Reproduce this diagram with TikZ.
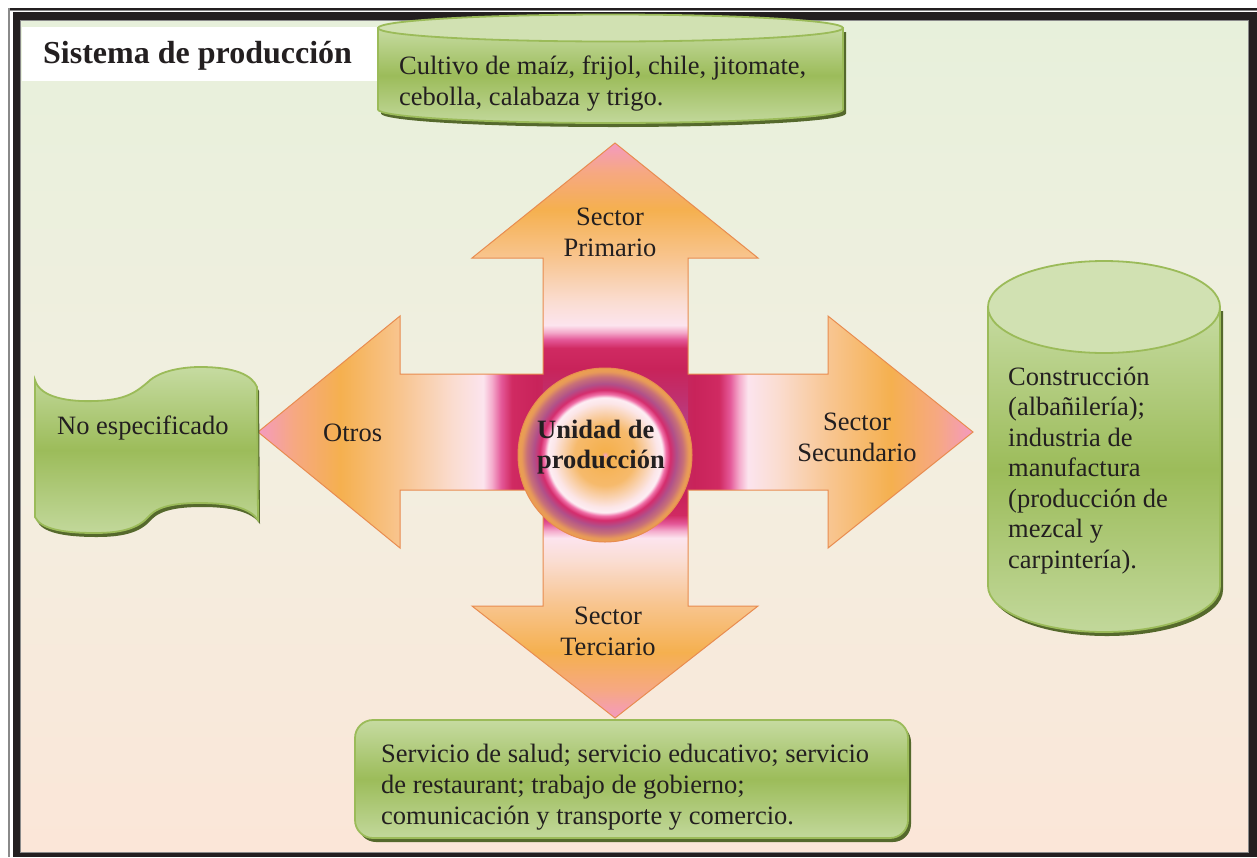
\documentclass[tikz,border=0pt]{standalone}
\usepackage{fontspec}
\setmainfont{Liberation Serif}
\definecolor{frameblack}{HTML}{231F20}
\definecolor{framegray}{HTML}{8A8A8A}
\definecolor{pgtop}{HTML}{E7F0DB}
\definecolor{pgmid}{HTML}{F2EFE0}
\definecolor{pgbot}{HTML}{FBE6D8}
\definecolor{gline}{HTML}{9BBB59}
\definecolor{glight}{HTML}{C6DBA1}
\definecolor{glightb}{HTML}{C2D89B}
\definecolor{gmid}{HTML}{9CBC5A}
\definecolor{gcap}{HTML}{D1E1B2}
\definecolor{gshadow}{HTML}{55692C}
\definecolor{aline}{HTML}{E88C50}
\definecolor{txt}{HTML}{231F20}
% arrow gradient stops (centre -> tip)
\definecolor{aa}{HTML}{B4448A}
\definecolor{ab}{HTML}{C0306E}
\definecolor{ac}{HTML}{C8235A}
\definecolor{ad}{HTML}{D02A62}
\definecolor{ae}{HTML}{E45898}
\definecolor{af}{HTML}{F4AACB}
\definecolor{ag}{HTML}{FCE4EE}
\definecolor{ah}{HTML}{FADDD2}
\definecolor{ai}{HTML}{F8C590}
\definecolor{aj}{HTML}{F5B04F}
\definecolor{ak}{HTML}{F6A882}
\definecolor{al}{HTML}{F49AC0}
% ring stops
\definecolor{rp}{HTML}{F2A0C8}
\definecolor{ro}{HTML}{F5B04C}
\definecolor{roo}{HTML}{F6BA6C}
\definecolor{rw}{HTML}{FCE6E8}
\definecolor{rww}{HTML}{FDEEF4}
\definecolor{rpk}{HTML}{F070A8}
\definecolor{rmg}{HTML}{D42C6C}
\definecolor{rpu}{HTML}{B0508A}
\definecolor{rmv}{HTML}{C87078}
\definecolor{ror}{HTML}{E89A58}
\definecolor{rorr}{HTML}{EBA050}
\pgfdeclareverticalshading{upsh}{100bp}{color(0bp)=(aa); color(25bp)=(aa); color(31bp)=(ab); color(36bp)=(ac); color(39.5bp)=(ad); color(41bp)=(ae); color(42.25bp)=(af); color(43.5bp)=(ag); color(47.5bp)=(ah); color(55bp)=(ai); color(63.5bp)=(aj); color(70bp)=(ak); color(75bp)=(al); color(100bp)=(al)}
\pgfdeclareverticalshading{downsh}{100bp}{color(0bp)=(al); color(25bp)=(al); color(30bp)=(ak); color(36.5bp)=(aj); color(45bp)=(ai); color(52.5bp)=(ah); color(56.5bp)=(ag); color(57.75bp)=(af); color(59bp)=(ae); color(60.5bp)=(ad); color(64bp)=(ac); color(69bp)=(ab); color(75bp)=(aa); color(100bp)=(aa)}
\pgfdeclarehorizontalshading{rightsh}{100bp}{color(0bp)=(aa); color(25bp)=(aa); color(31bp)=(ab); color(36bp)=(ac); color(39.5bp)=(ad); color(41bp)=(ae); color(42.25bp)=(af); color(43.5bp)=(ag); color(47.5bp)=(ah); color(55bp)=(ai); color(63.5bp)=(aj); color(70bp)=(ak); color(75bp)=(al); color(100bp)=(al)}
\pgfdeclarehorizontalshading{leftsh}{100bp}{color(0bp)=(al); color(25bp)=(al); color(30bp)=(ak); color(36.5bp)=(aj); color(45bp)=(ai); color(52.5bp)=(ah); color(56.5bp)=(ag); color(57.75bp)=(af); color(59bp)=(ae); color(60.5bp)=(ad); color(64bp)=(ac); color(69bp)=(ab); color(75bp)=(aa); color(100bp)=(aa)}
\pgfdeclareradialshading{ringsh}{\pgfpoint{0bp}{0bp}}{color(0bp)=(rp); color(1bp)=(ro); color(8.75bp)=(roo); color(15bp)=(rw); color(16.5bp)=(rww); color(17.5bp)=(rpk); color(18.75bp)=(rmg); color(20.5bp)=(rpu); color(22.5bp)=(rmv); color(24bp)=(ror); color(25bp)=(rorr); color(50bp)=(rorr)}
\tikzset{
  txtsz/.style={font=\fontsize{26.5}{31}\selectfont},
  lbl/.style={txtsz, text=txt, inner sep=0pt, anchor=base west, align=left},
  clbl/.style={txtsz, text=txt, inner sep=0pt, anchor=base, align=center},
  greenfill/.style={top color=glight, bottom color=glightb, middle color=gmid},
  greenline/.style={draw=gline, line width=1.8pt},
  arrowline/.style={draw=aline, line width=1pt, line join=miter}
}
\begin{document}
\begin{tikzpicture}[x=1pt,y=-1pt]
\useasboundingbox (0,0) rectangle (1257,857);
% frame
\fill[white] (0,0) rectangle (1257,857);
\fill[frameblack] (8,7.5) rectangle (1257,9.5);
\fill[framegray] (8,10) rectangle (1257,11);
\fill[framegray] (8,7.5) rectangle (9.5,857);
\fill[frameblack] (12.5,11.5) rectangle (1257,857);
\shade[top color=pgtop, bottom color=pgbot, middle color=pgmid] (20,20) rectangle (1248,852);
\draw[framegray, line width=0.8pt] (20,20) rectangle (1248,852);
% title box
\fill[white] (22,27) rectangle (378,81);
\node[inner sep=0pt, anchor=base west, text=txt, font=\fontsize{32}{38}\selectfont\bfseries] (title) at (43,63) {Sistema de producción};

% ---------- arrows ----------
\shade[shading=leftsh] (615.5,374) -- (400,374) -- (400,316) -- (258,432) -- (400,548) -- (400,490) -- (615.5,490) -- cycle;
\shade[shading=rightsh] (615.5,374) -- (828,374) -- (828,316) -- (973,432) -- (828,548) -- (828,490) -- (615.5,490) -- cycle;
\shade[shading=upsh] (543,432) -- (543,258) -- (472,258) -- (615,143) -- (758,258) -- (688,258) -- (688,432) -- cycle;
\shade[shading=downsh] (543,432) -- (543,606) -- (472,606) -- (615,718) -- (758,606) -- (688,606) -- (688,432) -- cycle;
\draw[arrowline] (543,374) -- (543,258) -- (472,258) -- (615,143) -- (758,258) -- (688,258) -- (688,374) -- (828,374) -- (828,316) -- (973,432) -- (828,548) -- (828,490) -- (688,490) -- (688,606) -- (758,606) -- (615,718) -- (472,606) -- (543,606) -- (543,490) -- (400,490) -- (400,548) -- (258,432) -- (400,316) -- (400,374) -- cycle;

% centre circle
\shade[shading=ringsh] (605,455) circle[radius=87];
\draw[aline, line width=1pt] (605,455) circle[radius=87];
\node[lbl, font=\fontsize{26.5}{30}\selectfont\bfseries] (unidad) at (537,468) {Unidad de\\producción};

% arrow labels
\node[clbl] (primario) at (610,256) {Sector\\Primario};
\node[clbl] (secundario) at (857,461) {Sector\\Secundario};
\node[clbl] (terciario) at (608,655) {Sector\\Terciario};
\node[lbl] (otros) at (323,441) {Otros};

% ---------- top cylinder ----------
\begin{scope}[shift={(3,4)}]
\fill[gshadow] (378,28) -- (378,109.5) arc[start angle=180,end angle=0,x radius=232.5,y radius=13.5] -- (843,28) -- cycle;
\end{scope}
\path[greenfill, greenline] (378,28) -- (378,109.5) arc[start angle=180,end angle=0,x radius=232.5,y radius=13.5] -- (843,28) -- cycle;
\path[fill=gcap, greenline] (610.5,28) ellipse[x radius=232.5,y radius=13.5];
\node[lbl] (cultivo) at (399,105) {Cultivo de maíz, frijol, chile, jitomate,\\cebolla, calabaza y trigo.};

% ---------- right cylinder ----------
\begin{scope}[shift={(3,4)}]
\fill[gshadow] (988,307) -- (988,586) arc[start angle=180,end angle=0,x radius=116,y radius=46] -- (1220,307) -- cycle;
\end{scope}
\path[greenfill, greenline] (988,307) -- (988,586) arc[start angle=180,end angle=0,x radius=116,y radius=46] -- (1220,307) -- cycle;
\path[fill=gcap, greenline] (1104,307) ellipse[x radius=116,y radius=46];
\node[lbl, font=\fontsize{26.5}{30.5}\selectfont] (construccion) at (1008,568) {Construcción\\(albañilería);\\industria de\\manufactura\\(producción de\\mezcal y\\carpintería).};

% ---------- left wave banner ----------
\begin{scope}[shift={(2,4)}]
\fill[gshadow] (35,380) .. controls (40,398) and (70,402) .. (95,401) .. controls (125,400) and (135,393) .. (148,382) .. controls (160,370) and (185,367) .. (200,367) .. controls (235,367) and (252,375) .. (257,387) -- (258,520) .. controls (250,508) and (230,503) .. (200,503) .. controls (180,503) and (160,505) .. (150,515) .. controls (140,527) and (125,533) .. (95,533) .. controls (60,533) and (40,528) .. (35,517) -- cycle;
\end{scope}
\path[greenfill, greenline] (35,380) .. controls (40,398) and (70,402) .. (95,401) .. controls (125,400) and (135,393) .. (148,382) .. controls (160,370) and (185,367) .. (200,367) .. controls (235,367) and (252,375) .. (257,387) -- (258,520) .. controls (250,508) and (230,503) .. (200,503) .. controls (180,503) and (160,505) .. (150,515) .. controls (140,527) and (125,533) .. (95,533) .. controls (60,533) and (40,528) .. (35,517) -- cycle;
\node[lbl] (noesp) at (57,434) {No especificado};

% ---------- bottom rounded box ----------
\fill[gshadow, rounded corners=18pt] (358,724) rectangle (911,842);
\path[greenfill, greenline, rounded corners=18pt] (355,720) rectangle (908,838);
\node[lbl] (servicio) at (381,824) {Servicio de salud; servicio educativo; servicio\\de restaurant; trabajo de gobierno;\\comunicación y transporte y comercio.};
\end{tikzpicture}
\end{document}
